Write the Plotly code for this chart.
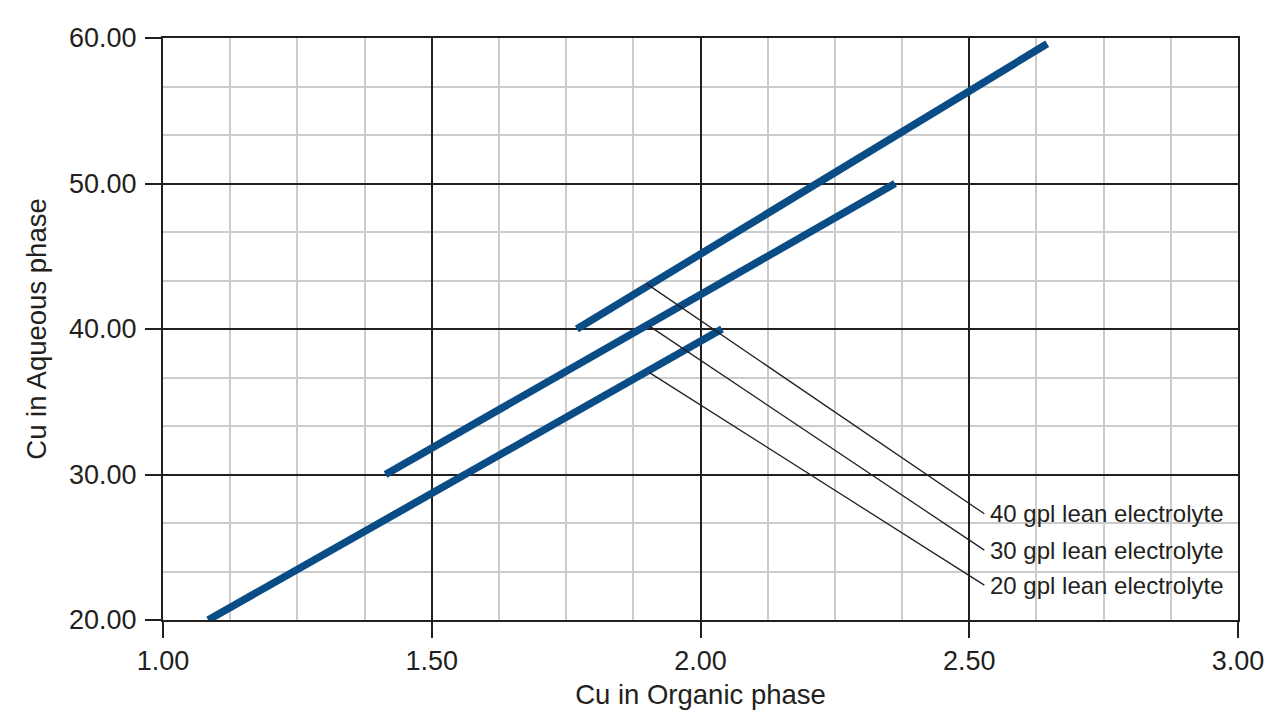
import plotly.graph_objects as go

# Series: (Cu in Organic phase, Cu in Aqueous phase) end points of each operating line
series_names = ["40 gpl lean electrolyte", "30 gpl lean electrolyte", "20 gpl lean electrolyte"]
line40_x = [1.77, 2.645]
line40_y = [40.0, 59.6]
line30_x = [1.414, 2.362]
line30_y = [30.0, 50.0]
line20_x = [1.084, 2.04]
line20_y = [20.0, 40.0]

# Leader lines from each series to its label
leader_start_x = [1.90, 1.905, 1.905]
leader_start_y = [43.1, 40.2, 37.0]
leader_end_x = [2.528, 2.528, 2.528]
leader_end_y = [27.3, 24.8, 22.4]

x_ticks = [1.0, 1.5, 2.0, 2.5, 3.0]
y_ticks = [20, 30, 40, 50, 60]

BLUE = "#0a4c86"
DARK = "#231f20"

fig = go.Figure()
for xs, ys, nm in [(line40_x, line40_y, series_names[0]),
                   (line30_x, line30_y, series_names[1]),
                   (line20_x, line20_y, series_names[2])]:
    fig.add_trace(go.Scatter(x=xs, y=ys, mode="lines", name=nm,
                             line=dict(color=BLUE, width=7.5), showlegend=False))

for i, nm in enumerate(series_names):
    fig.add_trace(go.Scatter(x=[leader_start_x[i], leader_end_x[i]],
                             y=[leader_start_y[i], leader_end_y[i]],
                             mode="lines", line=dict(color=DARK, width=1.3),
                             showlegend=False, hoverinfo="skip"))
    fig.add_annotation(x=leader_end_x[i] + 0.007, y=leader_end_y[i], text=nm,
                       showarrow=False, xanchor="left", yanchor="middle",
                       font=dict(size=24, color=DARK))

fig.update_xaxes(range=[1.0, 3.0], tickvals=x_ticks,
                 ticktext=[f"{v:.2f}" for v in x_ticks],
                 showgrid=True, gridcolor=DARK, gridwidth=2,
                 minor=dict(dtick=0.125, tick0=1.0, showgrid=True, gridcolor="#cccccc", gridwidth=1.6),
                 ticks="outside", ticklen=16, tickwidth=2, tickcolor=DARK,
                 showline=True, linecolor=DARK, linewidth=2, mirror=True,
                 zeroline=False, ticklabelstandoff=0,
                 tickfont=dict(size=27, color=DARK),
                 title=dict(text="Cu in Organic phase", font=dict(size=27.5, color=DARK), standoff=9))
fig.update_yaxes(range=[20, 60], tickvals=y_ticks,
                 ticktext=[f"{v:.2f}" for v in y_ticks],
                 showgrid=True, gridcolor=DARK, gridwidth=2,
                 minor=dict(dtick=10/3, tick0=20, showgrid=True, gridcolor="#cccccc", gridwidth=1.6),
                 ticks="outside", ticklen=16, tickwidth=2, tickcolor=DARK,
                 showline=True, linecolor=DARK, linewidth=2, mirror=True,
                 zeroline=False, ticklabelstandoff=3,
                 tickfont=dict(size=27, color=DARK),
                 title=dict(text="Cu in Aqueous phase", font=dict(size=27.5, color=DARK), standoff=14))

fig.update_layout(width=1287, height=727,
                  margin=dict(l=163, r=49, t=38, b=107, autoexpand=False),
                  paper_bgcolor="white", plot_bgcolor="white",
                  font=dict(family="Liberation Sans, Arial, sans-serif", color=DARK))

fig.write_html("out.html")
